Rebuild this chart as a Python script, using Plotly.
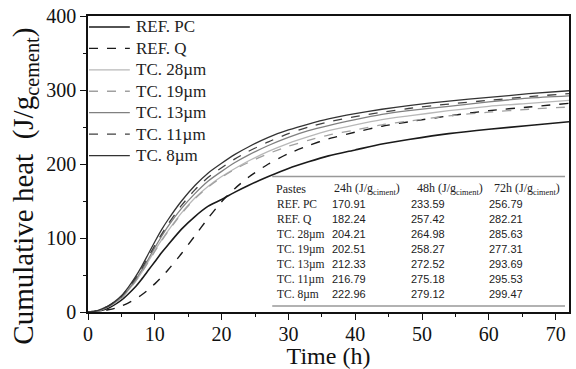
import plotly.graph_objects as go

# ---------------- data ----------------
time_h = [0, 1, 2, 3, 4, 5, 6, 7, 8, 9, 10, 11, 12, 14, 16, 18, 20, 22, 24,
          27, 30, 33, 36, 40, 44, 48, 54, 60, 66, 72]

ref_pc = [0, 1, 2, 5, 10, 16, 24, 33, 44, 56, 68, 80, 91, 112, 129, 143, 152, 162, 171,
          183, 194, 203, 211, 219, 227, 233, 241, 247, 252, 257]
ref_q = [0, 0.5, 1.5, 3, 5, 8, 12, 17, 23, 30, 38, 47, 57, 79, 103, 127, 149, 167, 182,
         200, 214, 225, 234, 243, 251, 257, 265, 272, 277, 282]
tc_28 = [0, 1, 3, 7, 12, 19, 29, 40, 53, 68, 83, 97, 110, 134, 154, 170, 183, 194, 204,
         217, 228, 237, 245, 253, 260, 265, 272, 278, 282, 286]
tc_19 = [0, 1, 3, 7, 12, 19, 29, 40, 53, 67, 82, 96, 109, 133, 153, 169, 182, 193, 202,
         214, 224, 232, 239, 246, 253, 258, 265, 270, 274, 277]
tc_13 = [0, 1, 3, 7, 13, 20, 30, 42, 56, 71, 87, 102, 116, 140, 160, 177, 190, 202, 212,
         225, 236, 245, 252, 260, 267, 272, 278, 284, 289, 292]
tc_11 = [0, 1, 4, 8, 14, 21, 32, 44, 58, 74, 90, 105, 119, 144, 165, 182, 195, 207, 217,
         230, 241, 250, 257, 264, 270, 275, 281, 286, 291, 295]
tc_8 = [0, 1, 4, 8, 14, 22, 33, 46, 61, 78, 95, 111, 125, 150, 171, 188, 201, 213, 223,
        236, 246, 254, 261, 268, 274, 279, 285, 290, 295, 299]

series_names = ["REF. PC", "REF. Q", "TC. 28\u00b5m", "TC. 19\u00b5m",
                "TC. 13\u00b5m", "TC. 11\u00b5m", "TC. 8\u00b5m"]
series_values = [ref_pc, ref_q, tc_28, tc_19, tc_13, tc_11, tc_8]

# table
table_header = ["Pastes", "24h (J/g<sub>ciment</sub>)", "48h (J/g<sub>ciment</sub>)",
                "72h (J/g<sub>ciment</sub>)"]
table_rows = ["REF. PC", "REF. Q", "TC. 28\u00b5m", "TC. 19\u00b5m",
              "TC. 13\u00b5m", "TC. 11\u00b5m", "TC. 8\u00b5m"]
heat_24h = ["170.91", "182.24", "204.21", "202.51", "212.33", "216.79", "222.96"]
heat_48h = ["233.59", "257.42", "264.98", "258.27", "272.52", "275.18", "279.12"]
heat_72h = ["256.79", "282.21", "285.63", "277.31", "293.69", "295.53", "299.47"]

x_title = "Time (h)"
y_title = "Cumulative heat  (J/g<sub>cement</sub>)"

# ---------------- styles ----------------
styles = [
    dict(color="#1a1a1a", dash="solid", width=1.6),
    dict(color="#1a1a1a", dash="dash", width=1.4),
    dict(color="#b8b8b8", dash="solid", width=1.3),
    dict(color="#a0a0a0", dash="dash", width=1.3),
    dict(color="#808080", dash="solid", width=1.3),
    dict(color="#404040", dash="dash", width=1.3),
    dict(color="#333333", dash="solid", width=1.3),
]

SERIF = "Liberation Serif"
SANS = "Liberation Sans"

fig = go.Figure()
for name, vals, st in zip(series_names, series_values, styles):
    fig.add_trace(go.Scatter(x=time_h, y=vals, mode="lines", name=name, showlegend=False,
                             line=dict(color=st["color"], dash=st["dash"],
                                       width=st["width"], shape="spline", smoothing=0.6)))

# plot area in pixels: left 88, right 571, top 15, bottom 312
L, R, T, B = 88, 571, 15, 312
W, H = 576, 369


def px(X):
    return (X - L) / (R - L)


def py(Y):
    return (B - Y) / (B - T)


annotations = []
shapes = []

# legend (drawn as key lines + labels inside the plot, top-left)
leg_y0, leg_dy = 26, 21.5
for i, (name, st) in enumerate(zip(series_names, styles)):
    yy = py(leg_y0 + i * leg_dy)
    shapes.append(dict(type="line", xref="paper", yref="paper", x0=px(89), x1=px(130),
                       y0=yy, y1=yy, line=dict(color=st["color"], dash=st["dash"],
                                               width=st["width"])))
    annotations.append(dict(x=px(134), y=yy, xref="paper", yref="paper", text=name,
                            showarrow=False, xanchor="left", yanchor="middle",
                            font=dict(family=SERIF, size=17, color="#222")))

# table
col_x = [276, 331, 410, 489]
header_x = [292, 333, 416, 494]
header_y = 189
for i, htxt in enumerate(table_header):
    annotations.append(dict(x=px(header_x[i]), y=py(header_y), xref="paper", yref="paper",
                            text=htxt, showarrow=False,
                            xanchor="center" if i == 0 else "left", yanchor="middle",
                            font=dict(family=SERIF, size=12, color="#222")))
row_y0, row_dy = 204, 15
for r, lab in enumerate(table_rows):
    yy = py(row_y0 + r * row_dy)
    annotations.append(dict(x=px(col_x[0]), y=yy, xref="paper", yref="paper", text=lab,
                            showarrow=False, xanchor="left", yanchor="middle",
                            font=dict(family=SERIF, size=11.5, color="#222")))
    for c, col in enumerate([heat_24h, heat_48h, heat_72h]):
        annotations.append(dict(x=px(col_x[c + 1]), y=yy, xref="paper", yref="paper",
                                text=col[r], showarrow=False, xanchor="left", yanchor="middle",
                                font=dict(family=SANS, size=11, color="#222")))

shapes += [
    dict(type="line", xref="paper", yref="paper", x0=px(273), x1=px(567), y0=py(176), y1=py(176),
         line=dict(color="#999999", width=1.5)),
    dict(type="line", xref="paper", yref="paper", x0=px(273), x1=px(567), y0=py(306), y1=py(306),
         line=dict(color="#999999", width=1.5)),
]

# y-axis title (spans almost the full figure height in the reference)
annotations.append(dict(x=px(25), y=py(186), xref="paper", yref="paper", text=y_title,
                        textangle=-90, showarrow=False, xanchor="center", yanchor="middle",
                        font=dict(family=SERIF, size=29, color="#111")))

fig.update_layout(
    width=W, height=H,
    margin=dict(l=L, r=W - R, t=T, b=H - B),
    paper_bgcolor="white", plot_bgcolor="white",
    font=dict(family=SERIF, color="#111"),
    showlegend=False,
    annotations=annotations,
    shapes=shapes,
)

fig.update_xaxes(range=[0, 72], tickmode="array", tickvals=[0, 10, 20, 30, 40, 50, 60, 70],
                 ticks="outside", ticklen=6, tickwidth=1.3, tickcolor="#111",
                 minor=dict(tickvals=[5, 15, 25, 35, 45, 55, 65], ticks="outside", ticklen=3,
                            tickwidth=1.2, tickcolor="#111"),
                 showline=True, linecolor="#111", linewidth=1.5, mirror=True,
                 showgrid=False, zeroline=False, ticklabelstandoff=-3,
                 tickfont=dict(family=SERIF, size=20, color="#111"),
                 title=dict(text=x_title, font=dict(family=SERIF, size=24, color="#111"),
                            standoff=0))
fig.update_yaxes(range=[0, 400], tickmode="array", tickvals=[0, 100, 200, 300, 400],
                 ticks="outside", ticklen=6, tickwidth=1.3, tickcolor="#111",
                 minor=dict(tickvals=[50, 150, 250, 350], ticks="outside", ticklen=3,
                            tickwidth=1.2, tickcolor="#111"),
                 showline=True, linecolor="#111", linewidth=1.5, mirror=True,
                 showgrid=False, zeroline=False,
                 tickfont=dict(family=SERIF, size=20, color="#111"))

fig.write_html("out.html")
